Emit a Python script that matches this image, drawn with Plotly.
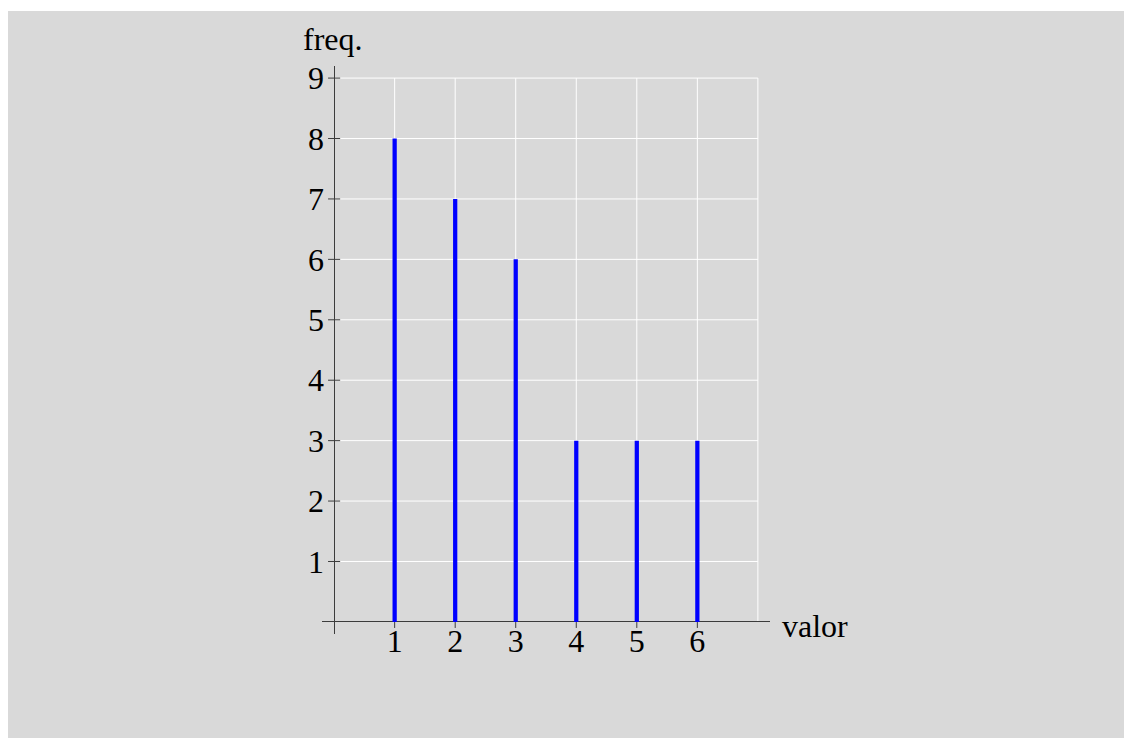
import plotly.graph_objects as go

# data
valores = [1, 2, 3, 4, 5, 6]
frequencias = [8, 7, 6, 3, 3, 3]
x_ticks = [1, 2, 3, 4, 5, 6]
y_ticks = [1, 2, 3, 4, 5, 6, 7, 8, 9]
x_grid = [1, 2, 3, 4, 5, 6, 7]
y_grid = [1, 2, 3, 4, 5, 6, 7, 8, 9]

FONT = "Liberation Serif"
AXIS_COLOR = "#3c3c3c"
BG = "#d9d9d9"

W, H = 1132, 738
L, R, T, B = 314, 370, 58, 112
PW, PH = W - L - R, H - T - B


def px_to_paper_x(px):
    return (px - L) / PW


def px_to_paper_y(py):
    return (H - B - py) / PH


fig = go.Figure()

fig.add_trace(go.Bar(
    x=valores,
    y=frequencias,
    width=0.07,
    marker=dict(color="#0000ff", line=dict(width=0)),
    hoverinfo="x+y",
))

shapes = [
    # gray page background, leaving a thin white strip on top
    dict(type="rect", xref="paper", yref="paper",
         x0=px_to_paper_x(0), x1=px_to_paper_x(W), y0=px_to_paper_y(H), y1=px_to_paper_y(3),
         fillcolor=BG, line=dict(width=0), layer="below"),
]
# grid, only inside the 0..7 x 0..9 box
for gx in x_grid:
    shapes.append(dict(type="line", xref="x", yref="y", x0=gx, x1=gx, y0=0, y1=max(y_grid),
                       line=dict(color="white", width=1), layer="below"))
for gy in y_grid:
    shapes.append(dict(type="line", xref="x", yref="y", x0=0, x1=max(x_grid), y0=gy, y1=gy,
                       line=dict(color="white", width=1), layer="below"))
# tick marks crossing the axes
for tx in x_ticks:
    shapes.append(dict(type="line", xref="x", yref="y", x0=tx, x1=tx, y0=-0.1, y1=0.1,
                       line=dict(color=AXIS_COLOR, width=1), layer="between"))
for ty in y_ticks:
    shapes.append(dict(type="line", xref="x", yref="y", x0=-0.1, x1=0.1, y0=ty, y1=ty,
                       line=dict(color=AXIS_COLOR, width=1), layer="between"))

fig.update_layout(
    width=W,
    height=H,
    paper_bgcolor="white",
    plot_bgcolor=BG,
    margin=dict(l=L, r=R, t=T, b=B),
    showlegend=False,
    font=dict(family=FONT, size=32, color="black"),
    shapes=shapes,
    annotations=[
        dict(text="freq.", x=0, y=px_to_paper_y(31), xref="x", yref="paper", showarrow=False,
             xanchor="center", yanchor="middle", xshift=-1, font=dict(size=32)),
        dict(text="valor", x=px_to_paper_x(772), y=0, xref="paper", yref="y", showarrow=False,
             xanchor="left", yanchor="middle", yshift=-4, font=dict(size=32)),
    ],
)

fig.update_xaxes(
    range=[-0.2, 7.2],
    showgrid=False,
    zeroline=True, zerolinecolor=AXIS_COLOR, zerolinewidth=1,
    showline=False,
    tickmode="array", tickvals=x_ticks, ticktext=[str(v) for v in x_ticks],
    ticks="",
    ticklabelstandoff=-15,
    fixedrange=True,
)
fig.update_yaxes(
    range=[-0.2, 9.2],
    showgrid=False,
    zeroline=True, zerolinecolor=AXIS_COLOR, zerolinewidth=1,
    showline=False,
    tickmode="array", tickvals=y_ticks, ticktext=[str(v) for v in y_ticks],
    ticks="",
    ticklabelstandoff=-3,
    fixedrange=True,
)

fig.write_html("out.html")
